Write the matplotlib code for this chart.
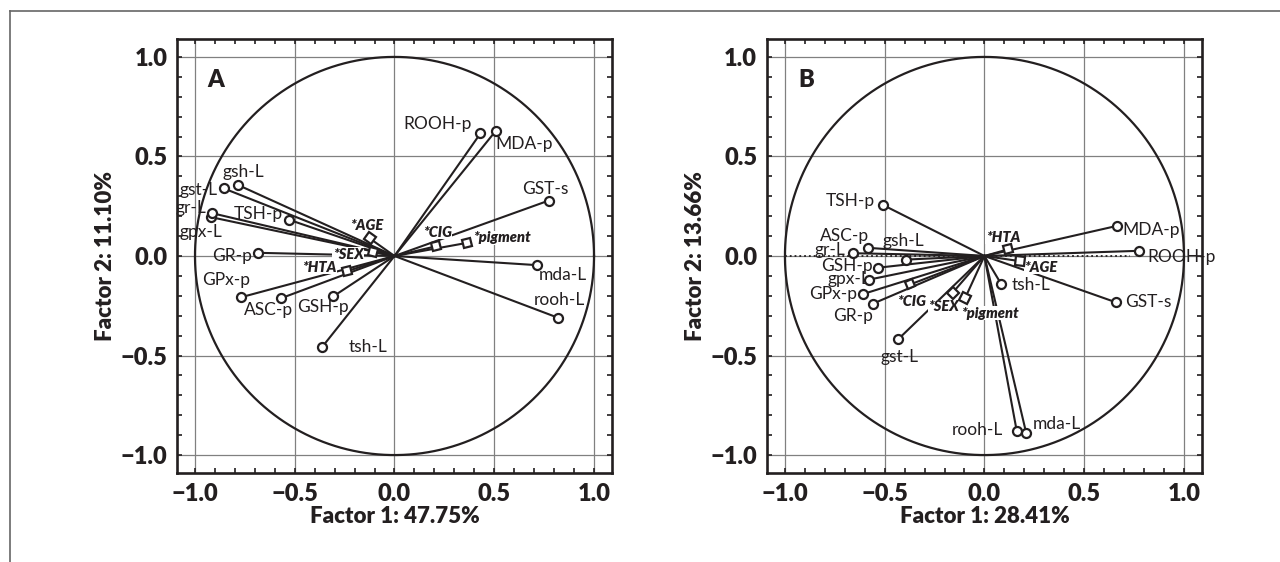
"""Factor analysis correlation circles, panels A and B"""

import numpy as np
import matplotlib.pyplot as plt
from matplotlib.lines import Line2D
from matplotlib.markers import MarkerStyle
from matplotlib.transforms import Affine2D
from matplotlib.ticker import MultipleLocator

plt.rcParams['font.family'] = ['Lato', 'DejaVu Sans']
plt.rcParams['axes.unicode_minus'] = True

INK = '#231f20'
HEAVY = 'heavy'

# ----------------------------
# Panel A: active variables
# ----------------------------
a_names = ['ROOH-p', 'MDA-p', 'GST-s', 'mda-L', 'rooh-L', 'tsh-L', 'GSH-p', 'ASC-p',
           'GPx-p', 'GR-p', 'gpx-L', 'gr-L', 'TSH-p', 'gsh-L', 'gst-L']
a_f1 = [0.431, 0.508, 0.772, 0.715, 0.819, -0.364, -0.307, -0.568,
        -0.768, -0.685, -0.919, -0.914, -0.531, -0.785, -0.857]
a_f2 = [0.616, 0.629, 0.278, -0.046, -0.310, -0.459, -0.203, -0.212,
        -0.207, 0.016, 0.195, 0.215, 0.183, 0.357, 0.340]
# label offsets (pixels)
a_offs = [(-43, 9), (28, -13), (-3, 12), (26, -10), (1, 18), (46, 0), (-10, -11), (-13, -12),
          (-15, 17), (-26, -3), (-10, -15), (-21, 5), (-30, 6), (5, 13), (-25, -2)]

# Panel A: supplementary variables
a_sup_names = ['*AGE', '*SEX', '*HTA', '*CIG', '*pigment']
a_sup_f1 = [-0.125, -0.107, -0.237, 0.209, 0.364]
a_sup_f2 = [0.089, 0.019, -0.076, 0.049, 0.066]
a_sup_offs = [(-3, 13), (-25, -2), (-28, 4), (1, 14), (35, 5)]

# ----------------------------
# Panel B: active variables
# ----------------------------
b_names = ['TSH-p', 'ASC-p', 'gr-L', 'gsh-L', 'GSH-p', 'gpx-L', 'GPx-p', 'GR-p',
           'gst-L', 'tsh-L', 'MDA-p', 'ROOH-p', 'GST-s', 'rooh-L', 'mda-L']
b_f1 = [-0.510, -0.583, -0.660, -0.391, -0.535, -0.580, -0.608, -0.560,
        -0.431, 0.084, 0.663, 0.773, 0.657, 0.162, 0.209]
b_f2 = [0.257, 0.041, 0.014, -0.018, -0.059, -0.119, -0.191, -0.240,
        -0.417, -0.141, 0.151, 0.026, -0.232, -0.880, -0.888]
b_offs = [(-32, 4), (-24, 12), (-23, 3), (-3, 19), (-31, 2), (-20, 1), (-30, 0), (-20, -12),
          (1, -18), (30, -1), (34, -4), (43, -6), (33, 0), (-39, 1), (31, 9)]

# Panel B: supplementary variables
b_sup_names = ['*HTA', '*AGE', '*CIG', '*SEX', '*pigment']
b_sup_f1 = [0.117, 0.179, -0.372, -0.159, -0.097]
b_sup_f2 = [0.033, -0.026, -0.143, -0.184, -0.212]
b_sup_offs = [(-5, 12), (21, -6), (1, -17), (-9, -14), (25, -15)]

# dotted reference line along factor 1 in panel B
b_ref_x = [-1.0, 0.73]


def draw_panel(ax, names, xs, ys, offs, sup_names, sx, sy, sup_offs, letter, xlab, ylab):
    ax.set_xlim(-1.09, 1.09)
    ax.set_ylim(-1.09, 1.09)
    ax.set_axisbelow(True)
    ax.grid(which='major', color='#808080', lw=0.9)

    t = np.linspace(0, 2 * np.pi, 400)
    ax.plot(np.cos(t), np.sin(t), color=INK, lw=1.6, zorder=2)

    # active variables: line + open circle
    for name, x, y, (dx, dy) in zip(names, xs, ys, offs):
        ax.plot([0, x], [0, y], color=INK, lw=1.5, zorder=2)
        ax.plot(x, y, 'o', ms=6.5, mfc='white', mec=INK, mew=1.6, zorder=5)
        ax.annotate(name, (x, y), xytext=(dx, dy), textcoords='offset pixels',
                    ha='center', va='center', fontsize=12.5, color=INK, zorder=4)

    # supplementary variables: line + square turned along the line
    for name, x, y, (dx, dy) in zip(sup_names, sx, sy, sup_offs):
        ang = np.degrees(np.arctan2(y, x))
        m = MarkerStyle('s', transform=Affine2D().rotate_deg(ang))
        ax.plot([0, x], [0, y], color=INK, lw=1.5, zorder=2)
        ax.plot(x, y, marker=m, ms=6, mfc='white', mec=INK, mew=1.6,
                ls='none', zorder=5)
        ax.annotate(name, (x, y), xytext=(dx, dy), textcoords='offset pixels',
                    ha='center', va='center', fontsize=10.5, fontweight=HEAVY,
                    fontstyle='italic', color=INK, zorder=4,
                    bbox=dict(fc='white', ec='none', pad=0.3))

    ax.set_xticks([-1, -0.5, 0, 0.5, 1])
    ax.set_yticks([-1, -0.5, 0, 0.5, 1])
    ax.xaxis.set_minor_locator(MultipleLocator(0.1))
    ax.yaxis.set_minor_locator(MultipleLocator(0.1))
    ax.tick_params(which='both', direction='in', top=True, right=True,
                   length=3.5, width=1.2, color=INK)
    ax.tick_params(which='major', labelsize=17, pad=7, labelcolor=INK)
    for lab in ax.get_xticklabels() + ax.get_yticklabels():
        lab.set_fontweight(HEAVY)
    for sp in ax.spines.values():
        sp.set_linewidth(1.9)
        sp.set_color(INK)

    ax.set_xlabel(xlab, fontsize=16, fontweight=HEAVY, color=INK, labelpad=1)
    ax.set_ylabel(ylab, fontsize=16, fontweight=HEAVY, color=INK, labelpad=3)
    ax.text(0.09, 0.905, letter, transform=ax.transAxes, fontsize=17,
            fontweight=HEAVY, color=INK, ha='center', va='center')


fig = plt.figure(figsize=(12.8, 5.62), dpi=100)
ax1 = fig.add_axes([0.1383, 0.1584, 0.3398, 0.7722])
ax2 = fig.add_axes([0.5992, 0.1584, 0.3398, 0.7722])

draw_panel(ax1, a_names, a_f1, a_f2, a_offs, a_sup_names, a_sup_f1, a_sup_f2, a_sup_offs,
           'A', 'Factor 1: 47.75%', 'Factor 2: 11.10%')
ax2.plot(b_ref_x, [0, 0], color=INK, lw=1.3, ls=':', zorder=1.5)
draw_panel(ax2, b_names, b_f1, b_f2, b_offs, b_sup_names, b_sup_f1, b_sup_f2, b_sup_offs,
           'B', 'Factor 1: 28.41%', 'Factor 2: 13.66%')

# thin frame on the left and top of the figure
fig.add_artist(Line2D([10 / 1280, 10 / 1280], [0, 1 - 11 / 562], transform=fig.transFigure,
                      color='#666666', lw=1.2))
fig.add_artist(Line2D([10 / 1280, 1], [1 - 11 / 562, 1 - 11 / 562], transform=fig.transFigure,
                      color='#666666', lw=1.2))

plt.savefig('out.png', dpi=100)
plt.close()
